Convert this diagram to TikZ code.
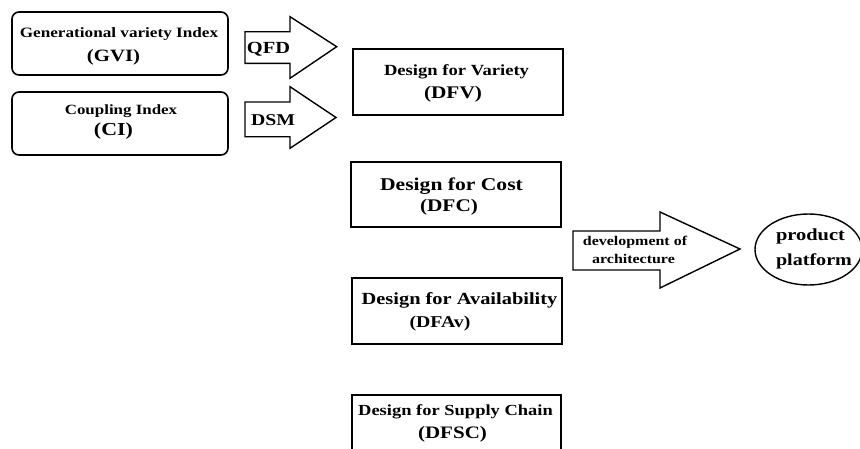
\documentclass[tikz,border=0pt]{standalone}
\usepackage{fontspec}
\setmainfont{Liberation Serif}
\usepackage{tikz, xcolor, graphicx}

% the lettering is a little wider than the font
\newcommand{\wide}[1]{\scalebox{1.2}[1]{#1}}

\tikzset{
  lbl/.style={font=\bfseries\fontsize{#1}{#1}\selectfont, inner sep=0pt, anchor=base},
  dbox/.style={line width=1.6pt},
  blockarrow/.style={line width=1.4pt, line join=miter}
}

\begin{document}
\begin{tikzpicture}[x=1pt,y=-1pt]
\fill[white] (0,0) rectangle (860,448);
\useasboundingbox (0,0) rectangle (860,448);
\clip (0,0) rectangle (860,448);

% index boxes
\draw[dbox, rounded corners=7pt] (12,12) rectangle (228,75);
\node[lbl=14.3] (gvi) at (119,37.5) {\wide{Generational variety Index}};
\node[lbl=17.3] (gviabbr) at (113.5,61.7) {\wide{(GVI)}};
\draw[dbox, rounded corners=7pt] (12,92) rectangle (228,155);
\node[lbl=14.1] (ci) at (121,114.7) {\wide{Coupling Index}};
\node[lbl=18.3] (ciabbr) at (113.5,135) {\wide{(CI)}};

% QFD and DSM arrows
\draw[blockarrow] (245,31.7) -- (290,31.7) -- (290,16.7) -- (336.7,46.7)
  -- (290,78.3) -- (290,63.3) -- (245,63.3) -- cycle;
\node[lbl=17] (qfd) at (268.5,53) {\wide{QFD}};
\draw[blockarrow] (245,102) -- (290,102) -- (290,86.7) -- (336,117.5)
  -- (290,148.3) -- (290,136.7) -- (245,136.7) -- cycle;
\node[lbl=16.5] (dsm) at (273,125.5) {\wide{DSM}};

% design-for boxes
\draw[dbox] (353,49) rectangle (563,115);
\node[lbl=15.5] (dfv) at (456.5,75) {\wide{Design for Variety}};
\node[lbl=17.75] (dfvabbr) at (453,98.9) {\wide{(DFV)}};

\draw[dbox] (351,162) rectangle (561,227);
\node[lbl=18] (dfc) at (451.5,190) {\wide{Design for Cost}};
\node[lbl=17.75] (dfcabbr) at (449,211) {\wide{(DFC)}};

\draw[dbox] (352,278) rectangle (562,344);
\node[lbl=17] (dfav) at (459.5,304.6) {\wide{Design for Availability}};
\node[lbl=16.5] (dfavabbr) at (440,327.5) {\wide{(DFAv)}};

\draw[dbox] (352,395) rectangle (561,470);
\node[lbl=15.4] (dfsc) at (455.5,415) {\wide{Design for Supply Chain}};
\node[lbl=17.5] (dfscabbr) at (452.5,438) {\wide{(DFSC)}};

% architecture arrow
\draw[blockarrow] (573,231) -- (660,231) -- (660,212) -- (740,249)
  -- (660,288) -- (660,270) -- (573,270) -- cycle;
\node[lbl=13.3] (devel) at (635,245) {\wide{development of}};
\node[lbl=13.3] (arch) at (633.5,263.3) {\wide{architecture}};

% platform
\draw[line width=1.4pt] (808.5,249.5) ellipse [x radius=53.5, y radius=35.5];
\node[lbl=17] (prod) at (810.5,240.7) {\wide{product}};
\node[lbl=16.75] (plat) at (814,265.7) {\wide{platform}};
\end{tikzpicture}
\end{document}
